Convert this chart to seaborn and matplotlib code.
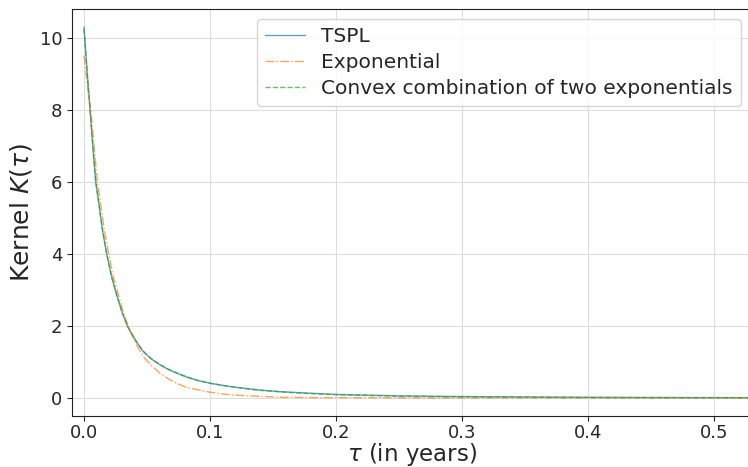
import matplotlib
matplotlib.use("Agg")
import matplotlib.pyplot as plt
from matplotlib.lines import Line2D
import seaborn as sns

# values
tau_tspl = [0, 0.0024, 0.0048, 0.007, 0.0093, 0.0114, 0.0145, 0.018, 0.022, 0.026,
            0.030, 0.0344, 0.038, 0.0418, 0.047, 0.0535, 0.0603, 0.067, 0.0735, 0.0815,
            0.09, 0.1, 0.11, 0.12, 0.13, 0.14, 0.156, 0.175, 0.2, 0.25, 0.3, 0.35,
            0.4, 0.45, 0.5, 0.53]
k_tspl = [10.3, 9.1, 8.0, 7.0, 6.0, 5.5, 4.7, 4.0, 3.35, 2.85,
          2.4, 2.0, 1.77, 1.55, 1.29, 1.08, 0.92, 0.79, 0.69, 0.58,
          0.49, 0.41, 0.35, 0.30, 0.26, 0.22, 0.175, 0.14, 0.10, 0.06, 0.04, 0.03,
          0.02, 0.015, 0.012, 0.01]

tau_exp = [0, 0.0026, 0.0053, 0.008, 0.0106, 0.0127, 0.016, 0.0196, 0.023, 0.027,
           0.031, 0.035, 0.041, 0.047, 0.0535, 0.0603, 0.067, 0.0735, 0.0815, 0.09,
           0.1, 0.11, 0.12, 0.134, 0.156, 0.2, 0.25, 0.3, 0.4, 0.53]
k_exp = [9.5, 8.7, 8.0, 7.0, 6.0, 5.5, 4.7, 4.0, 3.4, 2.9,
         2.4, 2.0, 1.52, 1.15, 0.90, 0.69, 0.53, 0.41, 0.29, 0.23,
         0.16, 0.11, 0.08, 0.055, 0.02, 0.01, 0.005, 0.002, 0.0, 0.0]

tau_conv = [0, 0.0024, 0.0048, 0.007, 0.0093, 0.0114, 0.0145, 0.018, 0.022, 0.026,
            0.030, 0.0344, 0.038, 0.0418, 0.047, 0.0535, 0.0603, 0.067, 0.0735, 0.0815,
            0.09, 0.1, 0.11, 0.12, 0.13, 0.14, 0.156, 0.175, 0.2, 0.25, 0.3, 0.35,
            0.4, 0.45, 0.5, 0.53]
k_conv = [10.25, 9.1, 8.0, 7.0, 6.0, 5.5, 4.7, 4.0, 3.36, 2.86,
          2.41, 2.0, 1.78, 1.56, 1.30, 1.09, 0.93, 0.80, 0.70, 0.59,
          0.49, 0.41, 0.35, 0.30, 0.25, 0.21, 0.17, 0.13, 0.09, 0.05, 0.03, 0.02,
          0.012, 0.008, 0.005, 0.004]

labels = ["TSPL", "Exponential", "Convex combination of two exponentials"]
colors = ["#1f77b4", "#ff7f0e", "#2ca02c"]
styles = ["-", "-.", "--"]

sns.set_style("ticks")
plt.rcParams["font.family"] = ["DejaVu Sans"]

fig = plt.figure(figsize=(7.48, 4.67), dpi=100)
ax = fig.add_axes([0.0963, 0.1092, 0.9078, 0.8715])

series = [(tau_tspl, k_tspl), (tau_exp, k_exp), (tau_conv, k_conv)]
handles = []
for (xs, ys), c, ls in zip(series, colors, styles):
    sns.lineplot(x=xs, y=ys, ax=ax, color=c, lw=1.0, alpha=0.7, linestyle=ls)
    handles.append(Line2D([], [], color=c, lw=1.0, alpha=0.7, linestyle=ls))

ax.set_xlim(-0.0095, 0.5294)
ax.set_ylim(-0.5, 10.8)
ax.set_xticks([0.0, 0.1, 0.2, 0.3, 0.4, 0.5])
ax.set_yticks([0, 2, 4, 6, 8, 10])
ax.tick_params(labelsize=13, length=3.5, width=0.8)
ax.tick_params(axis="x", pad=2.5)
ax.grid(True, color="#dddddd", lw=0.8)
ax.spines["right"].set_visible(False)
for s in ["left", "bottom", "top"]:
    ax.spines[s].set_color("#222222")
ax.set_xlabel(r"$\tau$ (in years)", fontsize=16.5, labelpad=-1)
ax.set_ylabel(r"Kernel $K(\tau)$", fontsize=18)
ax.legend(handles=handles, labels=labels, loc="upper right", fontsize=14.5,
          labelspacing=0.35, handlelength=2.0)

fig.savefig("out.png", dpi=100)
